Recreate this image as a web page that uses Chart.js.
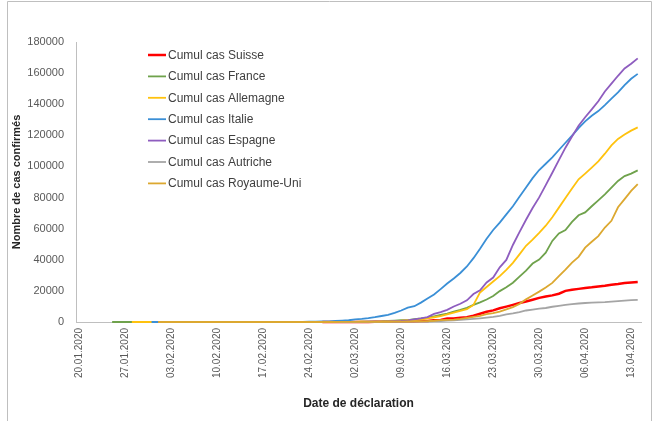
<!DOCTYPE html>
<html>
<head>
<meta charset="utf-8">
<script src="https://cdn.jsdelivr.net/npm/chart.js@4/dist/chart.umd.min.js"></script>
<style>
  html, body { margin: 0; padding: 0; background: #fff; }
  #wrap { width: 653px; height: 421px; }
</style>
</head>
<body>
<div id="wrap"><canvas id="cases-chart" width="653" height="421"></canvas></div>
<script>
// Cumulative confirmed cases by declaration date
const dates = [
    '20.01.2020', '21.01.2020', '22.01.2020', '23.01.2020', '24.01.2020', '25.01.2020', '26.01.2020',
    '27.01.2020', '28.01.2020', '29.01.2020', '30.01.2020', '31.01.2020', '01.02.2020', '02.02.2020',
    '03.02.2020', '04.02.2020', '05.02.2020', '06.02.2020', '07.02.2020', '08.02.2020', '09.02.2020',
    '10.02.2020', '11.02.2020', '12.02.2020', '13.02.2020', '14.02.2020', '15.02.2020', '16.02.2020',
    '17.02.2020', '18.02.2020', '19.02.2020', '20.02.2020', '21.02.2020', '22.02.2020', '23.02.2020',
    '24.02.2020', '25.02.2020', '26.02.2020', '27.02.2020', '28.02.2020', '29.02.2020', '01.03.2020',
    '02.03.2020', '03.03.2020', '04.03.2020', '05.03.2020', '06.03.2020', '07.03.2020', '08.03.2020',
    '09.03.2020', '10.03.2020', '11.03.2020', '12.03.2020', '13.03.2020', '14.03.2020', '15.03.2020',
    '16.03.2020', '17.03.2020', '18.03.2020', '19.03.2020', '20.03.2020', '21.03.2020', '22.03.2020',
    '23.03.2020', '24.03.2020', '25.03.2020', '26.03.2020', '27.03.2020', '28.03.2020', '29.03.2020',
    '30.03.2020', '31.03.2020', '01.04.2020', '02.04.2020', '03.04.2020', '04.04.2020', '05.04.2020',
    '06.04.2020', '07.04.2020', '08.04.2020', '09.04.2020', '10.04.2020', '11.04.2020', '12.04.2020',
    '13.04.2020', '14.04.2020'
];

const tickLabels = [
    '20.01.2020', '27.01.2020', '03.02.2020', '10.02.2020', '17.02.2020', '24.02.2020',
    '02.03.2020', '09.03.2020', '16.03.2020', '23.03.2020', '30.03.2020', '06.04.2020', '13.04.2020'
];

const yTicks = [0, 20000, 40000, 60000, 80000, 100000, 120000, 140000, 160000, 180000];

const suisse = [
    null, null, null, null, null, null, null, null, null, null, null, null, null, null, null, null,
    null, null, null, null, null, null, null, null, null, null, null, null, null, null, null, null,
    null, null, null, null, null,
    1, 1, 8, 8, 18, 27, 42, 56, 90, 114,
    214, 268, 337, 374, 491, 652, 652, 1139, 1359, 2200,
    2200, 2700, 3028, 4075, 5294, 6575, 7474, 8795, 9877, 11000,
    12200, 13200, 14300, 15500, 16400, 17100, 18200, 20000, 20700, 21300,
    21900, 22300, 22800, 23300, 24000, 24500, 25100, 25400, 25700
];

const france = [
    null, null, null, null, null,
    3, 3, 3, 4, 4, 5, 6,
    6, 6, 6, 6, 6, 6, 6, 6,
    11, 11, 11, 11, 11,
    12, 12, 12, 12, 12, 12, 12, 12, 12, 12, 12, 12, 12,
    18, 38, 57, 100, 130, 191, 204, 285, 377, 653,
    949, 1126, 1209, 1784, 2281, 2876, 3661, 4499, 5423, 6633,
    7730, 9134, 10995, 12612, 14459, 16689, 19856, 22302, 25233, 29155,
    32964, 37575, 40174, 44550, 52128, 56989, 59105, 64338, 68605, 70478,
    74390, 78167, 82048, 86334, 90676, 93790, 95403, 97500
];

const allemagne = [
    null, null, null, null, null, null, null, null,
    1, 4, 4, 5, 7, 8, 10, 12, 12, 12, 13, 13, 14, 14, 14,
    16, 16, 16, 16, 16, 16, 16, 16, 16, 16, 16, 16, 16, 16, 16,
    18, 26, 53, 66, 117, 150, 188, 240, 349, 534,
    684, 847, 1112, 1296, 1567, 2369, 3062, 3795, 4838, 6012,
    7156, 8198, 10999, 19000, 22500, 26000, 29500, 33500, 38000, 43500,
    49000, 53000, 57298, 61913, 67366, 73522, 79696, 85778, 91714, 95391,
    99225, 103228, 108202, 113525, 117658, 120479, 123016, 125098
];

const italie = [
    null, null, null, null, null, null, null, null, null, null, null,
    2, 2, 2, 2, 2, 2, 2,
    3, 3, 3, 3, 3, 3, 3, 3, 3, 3, 3, 3, 3, 3, 3,
    20, 79, 152, 229, 322, 400, 650, 888, 1128, 1694,
    2036, 2502, 3089, 3858, 4636, 5883, 7375, 9172, 10149, 12462,
    15113, 17660, 21157, 24747, 27980, 31506, 35713, 41035, 47021, 53578,
    59138, 63927, 69176, 74386, 80539, 86498, 92472, 97689, 101739, 105792,
    110574, 115242, 119827, 124632, 128948, 132547, 135586, 139422, 143626, 147577,
    152271, 156363, 159516
];

const espagne = [
    null, null, null, null, null, null, null, null, null, null, null, null,
    1, 1, 1, 1, 1, 1, 1, 1, 1,
    2, 2, 2, 2, 2, 2, 2, 2, 2, 2, 2, 2, 2, 2, 2,
    3, 7, 13, 15, 32, 45, 84, 120, 165, 222,
    259, 400, 500, 673, 1073, 1695, 2277, 3146, 5232, 6391,
    7798, 9942, 11748, 13910, 17963, 20410, 25374, 28603, 35136, 39885,
    49515, 57786, 65719, 73235, 80110, 87956, 95923, 104118, 112065, 119199,
    126168, 131646, 136675, 141942, 148220, 153222, 158273, 163027, 166019, 169496
];

const autriche = [
    null, null, null, null, null, null, null, null, null, null, null, null, null, null, null, null,
    null, null, null, null, null, null, null, null, null, null, null, null, null, null, null, null,
    null, null, null, null, null,
    2, 2, 3, 3, 9, 14, 18, 21, 29, 41,
    55, 79, 104, 131, 182, 246, 302, 504, 655, 860,
    1016, 1332, 1646, 2013, 2388, 2814, 3244, 3924, 4876, 5560,
    6398, 7399, 7995, 8536, 9000, 9800, 10400, 11000, 11500, 11900,
    12200, 12400, 12600, 12800, 13100, 13400, 13700, 14000, 14200, 14400
];

const royaumeUni = [
    null, null, null, null, null, null, null, null, null, null, null, null,
    2, 2, 2, 2, 2, 2,
    3, 3, 3,
    4, 8,
    9, 9, 9, 9, 9, 9, 9, 9, 9, 9, 9, 9, 9,
    13, 13, 13, 15, 20, 23, 36, 40, 51, 85,
    115, 163, 206, 273, 321, 373, 456, 590, 798, 1140,
    1391, 1543, 1950, 2626, 3269, 3983, 5018, 5683, 6650, 8077,
    9529, 11658, 14543, 17089, 19522, 22141, 25150, 29474, 33718, 38168,
    41903, 47806, 51608, 55242, 60733, 65077, 73758, 78991, 84279, 88621
];

const FONT = "'Liberation Sans', Arial, sans-serif";
const AXIS_GREY = '#BFBFBF';
const TEXT_GREY = '#595959';

function makeSeries(label, data, color, width, order) {
    return {
        label: label,
        data: data,
        borderColor: color,
        backgroundColor: color,
        borderWidth: width,
        pointRadius: 0,
        tension: 0,
        fill: false,
        clip: false,
        order: order
    };
}

// Legend drawn inside the plot, like the original
const insideLegend = {
    id: 'insideLegend',
    afterDraw(chart) {
        const ctx = chart.ctx;
        ctx.save();
        ctx.font = '12px ' + FONT;
        ctx.textBaseline = 'middle';
        ctx.textAlign = 'left';
        chart.data.datasets.forEach((ds, i) => {
            const y = 55 + i * 21.4;
            ctx.strokeStyle = ds.borderColor;
            ctx.lineWidth = ds.borderWidth;
            ctx.beginPath();
            ctx.moveTo(148, y);
            ctx.lineTo(166, y);
            ctx.stroke();
            ctx.fillStyle = '#404040';
            ctx.fillText(ds.label, 168, y + 0.5);
        });
        ctx.restore();
    }
};

// Outer frame of the chart object
const frame = {
    id: 'frame',
    afterDraw(chart) {
        const ctx = chart.ctx;
        ctx.save();
        ctx.strokeStyle = '#BFBFBF';
        ctx.lineWidth = 1;
        ctx.beginPath();
        ctx.moveTo(7.5, 425);
        ctx.lineTo(7.5, 1.5);
        ctx.lineTo(651.5, 1.5);
        ctx.lineTo(651.5, 425);
        ctx.stroke();
        ctx.restore();
    }
};

const ctx = document.getElementById('cases-chart').getContext('2d');

new Chart(ctx, {
    type: 'line',
    data: {
        labels: dates,
        datasets: [
            makeSeries('Cumul cas Suisse', suisse, '#FF0000', 2.5, 6),
            makeSeries('Cumul cas France', france, '#6FA24C', 1.8, 5),
            makeSeries('Cumul cas Allemagne', allemagne, '#FFC20E', 1.8, 4),
            makeSeries('Cumul cas Italie', italie, '#3A8FD6', 1.8, 3),
            makeSeries('Cumul cas Espagne', espagne, '#8E5DBF', 1.8, 2),
            makeSeries('Cumul cas Autriche', autriche, '#A5A5A5', 1.8, 1),
            makeSeries('Cumul cas Royaume-Uni', royaumeUni, '#DCA830', 1.8, 0)
        ]
    },
    options: {
        responsive: false,
        animation: false,
        devicePixelRatio: 1,
        layout: {
            padding: { left: 8, top: 42, right: 12, bottom: 0 }
        },
        plugins: {
            legend: { display: false },
            tooltip: { enabled: false }
        },
        scales: {
            x: {
                type: 'category',
                offset: true,
                grid: { display: false, drawTicks: false },
                border: { display: true, color: AXIS_GREY, width: 1 },
                ticks: {
                    autoSkip: false,
                    minRotation: 90,
                    maxRotation: 90,
                    padding: 6,
                    color: TEXT_GREY,
                    font: { family: FONT, size: 10 },
                    callback: function (value, index) {
                        const label = dates[index];
                        return tickLabels.includes(label) ? label : null;
                    }
                },
                title: {
                    display: true,
                    text: 'Date de déclaration',
                    color: '#262626',
                    font: { family: FONT, size: 12, weight: 'bold' },
                    padding: { top: 0, bottom: 10 }
                },
                afterFit: (scale) => { scale.height = 99; }
            },
            y: {
                min: 0,
                max: 180000,
                grid: { display: false, drawTicks: false },
                border: { display: true, color: AXIS_GREY, width: 1 },
                afterBuildTicks: (scale) => {
                    scale.ticks = yTicks.map(v => ({ value: v }));
                },
                ticks: {
                    padding: 12,
                    color: TEXT_GREY,
                    font: { family: FONT, size: 11 },
                    callback: (value) => String(value)
                },
                title: {
                    display: true,
                    text: 'Nombre de cas confirmés',
                    color: '#262626',
                    font: { family: FONT, size: 11, weight: 'bold' },
                    padding: { top: 2, bottom: 0 }
                },
                afterFit: (scale) => { scale.width = 68; }
            }
        }
    },
    plugins: [insideLegend, frame]
});
</script>
</body>
</html>
